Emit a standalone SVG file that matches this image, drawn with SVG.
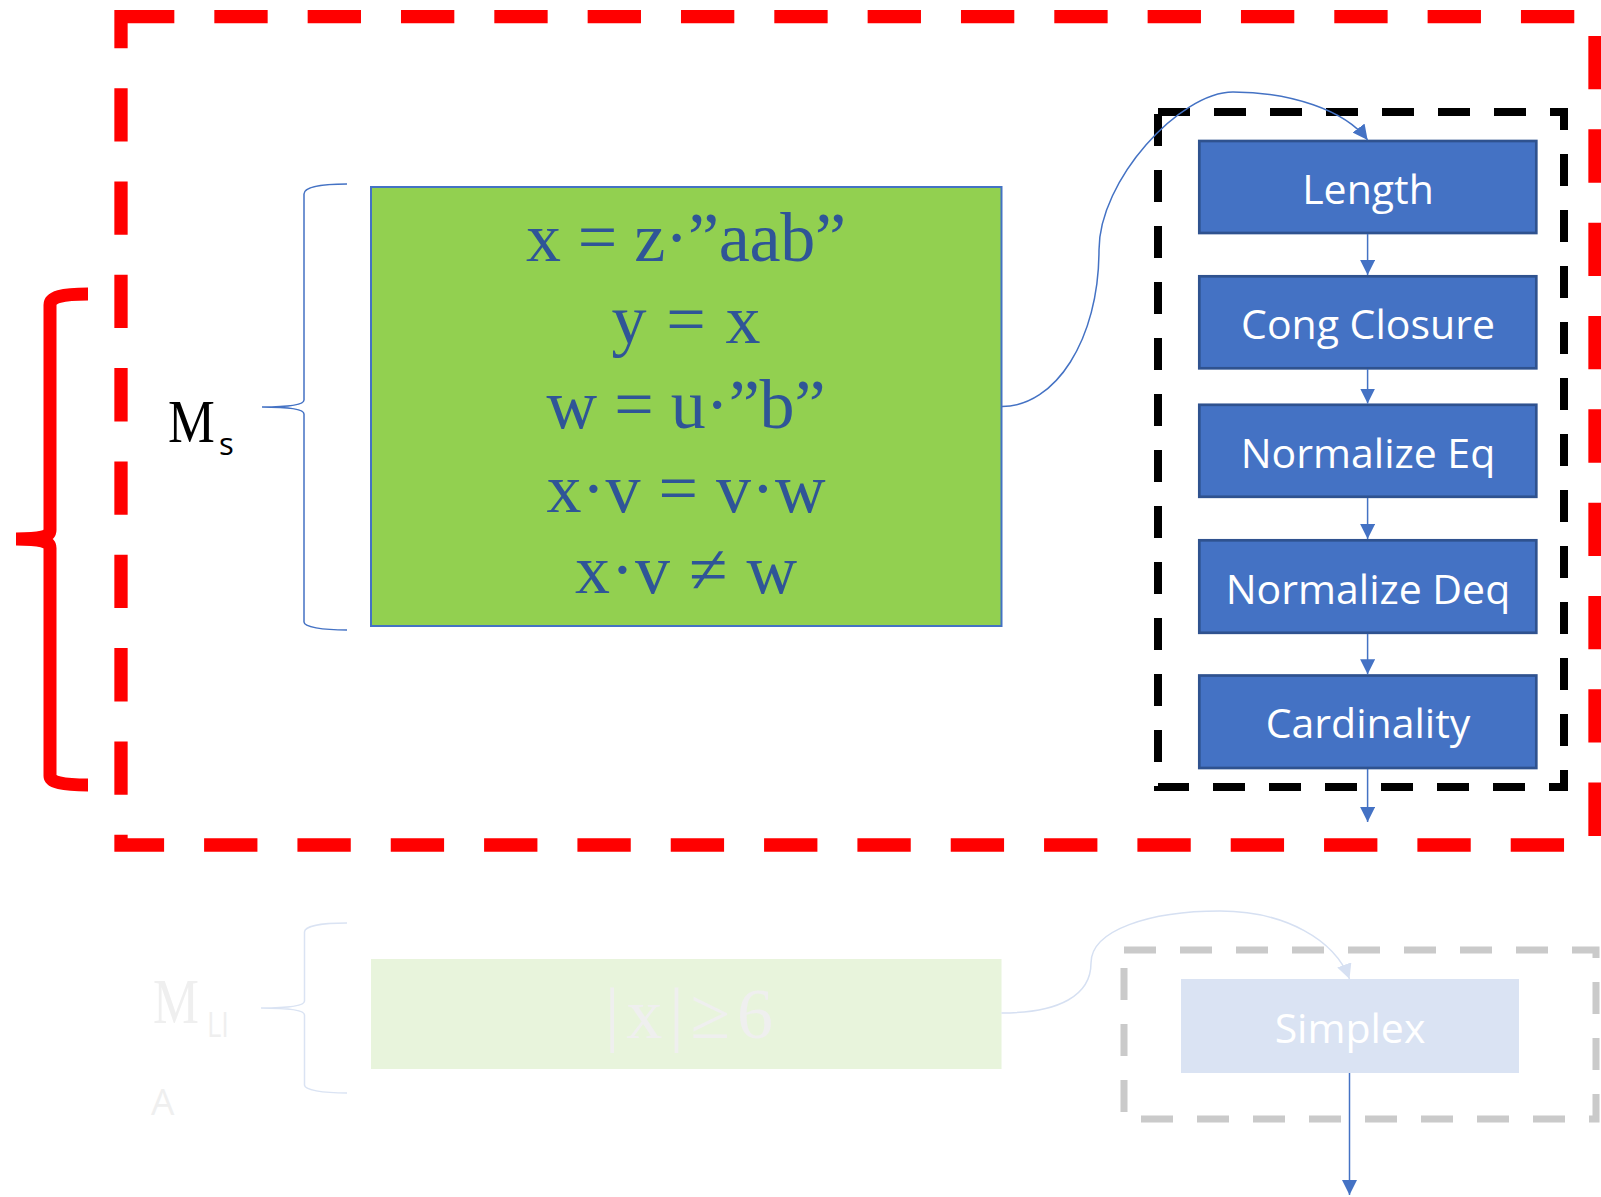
<svg xmlns="http://www.w3.org/2000/svg" width="1601" height="1197" viewBox="0 0 1601 1197">
  <style>
    .math { font-family: "Liberation Serif", "Times New Roman", serif; fill: #2F5597; font-size: 70px; text-anchor: middle; }
    .step { fill: #4472C4; stroke: #2F528F; stroke-width: 2.7; }
    .step-label { font-family: "Open Sans", "Noto Sans", sans-serif; font-size: 41px; fill: #FFFFFF; text-anchor: middle; }
    .link { fill: none; stroke: #4472C4; stroke-width: 1.5; }
    .link-faded { fill: none; stroke: #D6E0F2; stroke-width: 1.5; }
    .brace { fill: none; stroke: #4472C4; stroke-width: 1.5; }
    .faded-text { fill: #EFEFEF; }
  </style>
  <defs>
    <marker id="arrow" markerUnits="userSpaceOnUse" markerWidth="16" markerHeight="16" refX="15" refY="7.5" orient="auto">
      <path d="M0,0 L15,7.5 L0,15 Z" fill="#4472C4"/>
    </marker>
    <marker id="arrow-faded" markerUnits="userSpaceOnUse" markerWidth="16" markerHeight="16" refX="15" refY="7.5" orient="auto">
      <path d="M0,0 L15,7.5 L0,15 Z" fill="#D6E0F2"/>
    </marker>
  </defs>

  <!-- outer string-theory region -->
  <g id="string-region">
    <rect x="121" y="16.7" width="1474" height="828.3" fill="none" stroke="#FF0000" stroke-width="13.3" stroke-dasharray="53.33 40"/>
  </g>

  <!-- large red brace grouping the string model -->
  <g id="red-brace">
    <path d="M88,294 C62,294 50,297 50,305 L50,530 C50,537 40,539 16,539 C40,539 50,541 50,548 L50,776 C50,782 62,785 88,785" fill="none" stroke="#FF0000" stroke-width="13"/>
  </g>

  <!-- model label M_s -->
  <g id="label-ms">
    <text transform="translate(168,442) scale(0.85,1)" font-family="Liberation Serif, serif" font-size="62" fill="#000000">M</text>
    <text x="219" y="455" font-family="Open Sans, sans-serif" font-size="31" fill="#000000">s</text>
  </g>

  <g id="brace-ms">
    <path class="brace" d="M347,184 C322,184 304,187 304,194 L304,400 C304,405 290,407 262,407 C290,407 304,409 304,414 L304,622 C304,627 322,630 347,630"/>
  </g>

  <!-- string constraints -->
  <g id="string-constraints">
    <rect x="371" y="187" width="630.5" height="439" fill="#92D050" stroke="#4472C4" stroke-width="2"/>
    <text class="math" x="686" y="261" textLength="320" lengthAdjust="spacing">x = z·”aab”</text>
    <text class="math" x="686" y="343" textLength="149" lengthAdjust="spacing">y = x</text>
    <text class="math" x="686" y="428" textLength="279" lengthAdjust="spacing">w = u·”b”</text>
    <text class="math" x="686" y="512" textLength="279" lengthAdjust="spacing">x·v = v·w</text>
    <text class="math" x="686" y="593" textLength="222" lengthAdjust="spacing">x·v ≠ w</text>
  </g>

  <!-- string solver pipeline -->
  <g id="string-pipeline">
    <rect x="1158" y="112" width="406" height="675" fill="none" stroke="#000000" stroke-width="8" stroke-dasharray="32 24"/>
  </g>

  <g id="step-length">
    <rect class="step" x="1199.3" y="141" width="337" height="92"/>
    <text class="step-label" x="1368" y="204">Length</text>
  </g>
  <g id="step-cong-closure">
    <rect class="step" x="1199.3" y="276.3" width="337" height="92"/>
    <text class="step-label" x="1368" y="339">Cong Closure</text>
  </g>
  <g id="step-normalize-eq">
    <rect class="step" x="1199.3" y="404.8" width="337" height="92"/>
    <text class="step-label" x="1368" y="468">Normalize Eq</text>
  </g>
  <g id="step-normalize-deq">
    <rect class="step" x="1199.3" y="540.3" width="337" height="92.5"/>
    <text class="step-label" x="1368" y="603.5">Normalize Deq</text>
  </g>
  <g id="step-cardinality">
    <rect class="step" x="1199.3" y="675.5" width="337" height="92.5"/>
    <text class="step-label" x="1368" y="737.5">Cardinality</text>
  </g>

  <!-- arithmetic part (dimmed) -->
  <g id="label-mlia">
    <text transform="translate(153,1023) scale(0.82,1)" font-family="Liberation Serif, serif" font-size="63" class="faded-text">M</text>
    <text x="207" y="1037" font-family="Open Sans, sans-serif" font-size="34" class="faded-text" textLength="22" lengthAdjust="spacingAndGlyphs">LI</text>
    <text x="151" y="1115" font-family="Open Sans, sans-serif" font-size="37" class="faded-text">A</text>
  </g>

  <g id="brace-mlia">
    <path d="M347,923 C322,923 304.5,926 304.5,932 L304.5,1001 C304.5,1006 290,1008 261,1008 C290,1008 304.5,1010 304.5,1015 L304.5,1085 C304.5,1090 322,1093 347,1093" fill="none" stroke="#DAE3F3" stroke-width="1.5"/>
  </g>

  <g id="arith-constraints">
    <rect x="371" y="959" width="630.5" height="110" fill="#E8F4DC"/>
    <text x="689" y="1038" font-family="Liberation Serif, serif" font-size="72" text-anchor="middle" class="faded-text" textLength="168" lengthAdjust="spacing">|x|≥6</text>
  </g>

  <g id="arith-pipeline">
    <rect x="1124" y="950" width="472" height="169" fill="none" stroke="#CACACA" stroke-width="7" stroke-dasharray="32 24"/>
  </g>

  <g id="step-simplex">
    <rect x="1181" y="979" width="338" height="94" fill="#DAE3F3"/>
    <text class="step-label" x="1350" y="1043">Simplex</text>
  </g>

  <!-- connectors -->
  <g id="connectors">
    <path class="link" d="M1002,406.5 C1055,406.5 1099,340 1099,250 C1099,180 1180,92 1233,92 C1290,92 1345,110 1367.6,140" marker-end="url(#arrow)"/>
    <line class="link" x1="1367.6" y1="234" x2="1367.6" y2="275" marker-end="url(#arrow)"/>
    <line class="link" x1="1367.6" y1="369" x2="1367.6" y2="403.5" marker-end="url(#arrow)"/>
    <line class="link" x1="1367.6" y1="498" x2="1367.6" y2="539" marker-end="url(#arrow)"/>
    <line class="link" x1="1367.6" y1="634" x2="1367.6" y2="674.2" marker-end="url(#arrow)"/>
    <line class="link" x1="1367.6" y1="769" x2="1367.6" y2="822" marker-end="url(#arrow)"/>
    <path class="link-faded" d="M1001.5,1013 C1060,1013 1091,995 1091,963 C1091,930 1150,911 1220,911 C1285,911 1335,940 1349.5,979" marker-end="url(#arrow-faded)"/>
    <line class="link" x1="1349.5" y1="1073" x2="1349.5" y2="1195" marker-end="url(#arrow)"/>
  </g>
</svg>
